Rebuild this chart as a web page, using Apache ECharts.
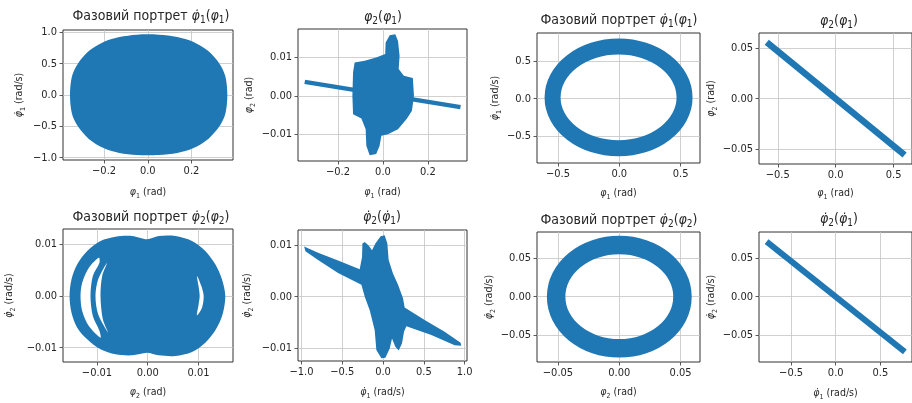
<!DOCTYPE html>
<html>
<head>
<meta charset="utf-8">
<script src="https://cdn.jsdelivr.net/npm/echarts@6/dist/echarts.min.js"></script>
<style>
  html, body { margin: 0; padding: 0; background: #fff; }
  #chart { width: 912px; height: 403px; }
</style>
</head>
<body>
<div id="chart"></div>
<script>
// ---------- phase-portrait data (rad, rad/s) ----------

// φ̇1(φ1), run 1: filled envelope of the trajectory
const p1Region = [[-0.356,0],[-0.347,0.3],[-0.32,0.5],[-0.27,0.7],[-0.2,0.85],[-0.13,0.925],[-0.05,0.963],
  [0.05,0.963],[0.135,0.927],[0.207,0.85],[0.277,0.7],[0.328,0.5],[0.355,0.3],[0.364,0],[0.355,-0.3],[0.328,-0.5],
  [0.277,-0.7],[0.207,-0.85],[0.135,-0.925],[0.05,-0.958],[-0.05,-0.958],[-0.13,-0.925],[-0.2,-0.85],[-0.27,-0.7],
  [-0.32,-0.5],[-0.347,-0.3]];

// φ2(φ1), run 1: thin band plus central cloud
const p2Band = [[-0.348,0.00365],[0.345,-0.00296]];
const p2Cloud = [[-0.126,0.0087],[-0.081,0.0091],[-0.030,0.0100],[0.010,0.0109],[0.012,0.0139],[0.030,0.0158],
  [0.055,0.0160],[0.067,0.0143],[0.074,0.0104],[0.070,0.0070],[0.093,0.0052],[0.133,0.0046],[0.138,0.0000],
  [0.129,-0.0039],[0.107,-0.0059],[0.067,-0.0087],[0.022,-0.0100],[-0.007,-0.0104],[-0.015,-0.0130],
  [-0.030,-0.0152],[-0.059,-0.0155],[-0.074,-0.0130],[-0.077,-0.0087],[-0.096,-0.0059],[-0.133,-0.0048],
  [-0.136,0.0000],[-0.133,0.0061]];

// φ̇1(φ1), run 2: ring centre line
const p3Ring = [[0.532,0.017],[0.491,0.274],[0.374,0.492],[0.200,0.638],[-0.006,0.689],[-0.212,0.638],
  [-0.386,0.492],[-0.503,0.274],[-0.544,0.017],[-0.503,-0.240],[-0.386,-0.458],[-0.212,-0.604],
  [-0.006,-0.655],[0.200,-0.604],[0.374,-0.458],[0.491,-0.240]];

// φ2(φ1), run 2
const p4Band = [[-0.595,0.0558],[0.595,-0.0558]];

// φ̇2(φ2), run 1: envelope and empty gaps between the orbits
const p5Region = [[-0.01541,0],[-0.01502,0.00323],[-0.01390,0.00613],[-0.01193,0.00871],[-0.00931,0.01065],
  [-0.00636,0.01148],[-0.00308,0.01161],[-0.00013,0.01097],[0.00216,0.01161],[0.00544,0.01161],
  [0.00872,0.01065],[0.01134,0.00871],[0.01331,0.00613],[0.01462,0.00323],[0.01528,0],[0.01475,-0.00355],
  [0.01344,-0.00645],[0.01134,-0.00903],[0.00872,-0.01084],[0.00544,-0.01161],[0.00216,-0.01148],
  [-0.00013,-0.01097],[-0.00308,-0.01148],[-0.00636,-0.01129],[-0.00931,-0.01032],[-0.01193,-0.00839],
  [-0.01390,-0.00613],[-0.01502,-0.00323]];
const p5GapA = [[-0.00964,0.00742],[-0.01161,0.00548],[-0.01292,0.00258],[-0.01325,0],[-0.01292,-0.00290],
  [-0.01161,-0.00581],[-0.00931,-0.00806],[-0.00951,-0.00677],[-0.01082,-0.00387],[-0.01128,0],
  [-0.01082,0.00387],[-0.00951,0.00645]];
const p5GapB = [[-0.0080,0.00645],[-0.00977,0.00323],[-0.0103,0],[-0.00977,-0.00355],[-0.0078,-0.0071],
  [-0.00885,-0.00452],[-0.00931,0],[-0.00898,0.00387]];
const p5GapC = [[0.0097,0.00387],[0.01056,0.00194],[0.01102,0],[0.01069,-0.00226],[0.0097,-0.00374],
  [0.01003,-0.00161],[0.01023,0],[0.01003,0.00181]];

// φ̇2(φ̇1), run 1
const p6Region = [[-0.967,0.0097],[-0.796,0.0085],[-0.551,0.0070],[-0.286,0.0053],[-0.257,0.0077],
  [-0.253,0.0103],[-0.224,0.0106],[-0.176,0.0099],[-0.135,0.0090],[-0.094,0.0103],[-0.029,0.0117],
  [0.020,0.0119],[0.053,0.0103],[0.069,0.0071],[0.122,0.0045],[0.184,0.0023],[0.245,-0.0003],
  [0.265,-0.0021],[0.510,-0.0045],[0.755,-0.0068],[0.951,-0.0089],[0.959,-0.0095],[0.878,-0.0094],
  [0.592,-0.0074],[0.286,-0.0057],[0.257,-0.0068],[0.233,-0.0090],[0.192,-0.0104],[0.151,-0.0097],
  [0.110,-0.0081],[0.082,-0.0100],[0.029,-0.0118],[-0.020,-0.0119],[-0.082,-0.0103],[-0.102,-0.0065],
  [-0.163,-0.0026],[-0.224,0.0000],[-0.265,0.0023],[-0.551,0.0046],[-0.796,0.0071],[-0.951,0.0088]];

// φ̇2(φ2), run 2: ring centre line
const p7Ring = [[0.0515,0],[0.0476,0.0258],[0.0364,0.0477],[0.0197,0.0623],[0,0.0674],[-0.0197,0.0623],
  [-0.0364,0.0477],[-0.0476,0.0258],[-0.0515,0],[-0.0476,-0.0258],[-0.0364,-0.0477],[-0.0197,-0.0623],
  [0,-0.0674],[0.0197,-0.0623],[0.0364,-0.0477],[0.0476,-0.0258]];

// φ̇2(φ̇1), run 2
const p8Band = [[-0.775,0.072],[0.775,-0.072]];

// ---------- axis extents and ticks ----------
const p1XRange = [-0.388, 0.39],    p1YRange = [-1.037, 1.037];
const p2XRange = [-0.378, 0.374],   p2YRange = [-0.0170, 0.0174];
const p3XRange = [-0.671, 0.658],   p3YRange = [-0.85, 0.869];
const p4XRange = [-0.662, 0.659],   p4YRange = [-0.0647, 0.065];
const p5XRange = [-0.0167, 0.0168], p5YRange = [-0.01277, 0.01296];
const p6XRange = [-1.042, 1.029],   p6YRange = [-0.01244, 0.0129];
const p7XRange = [-0.0671, 0.0658], p7YRange = [-0.0853, 0.0845];
const p8XRange = [-0.86, 0.855],    p8YRange = [-0.0853, 0.0845];

const ticksA = [-0.2, 0, 0.2],           labelsA = ['\u22120.2', '0.0', '0.2'];
const ticksB = [-1, -0.5, 0, 0.5, 1],    labelsB = ['\u22121.0', '\u22120.5', '0.0', '0.5', '1.0'];
const ticksC = [-0.01, 0, 0.01],         labelsC = ['\u22120.01', '0.00', '0.01'];
const ticksD = [-0.5, 0, 0.5],           labelsD = ['\u22120.5', '0.0', '0.5'];
const ticksE = [-0.05, 0, 0.05],         labelsE = ['\u22120.05', '0.00', '0.05'];

// ---------- text ----------
const FONT = '"DejaVu Sans Condensed", "DejaVu Sans", sans-serif';
const INK = '#262626';
const BLUE = '#1f77b4';

const phi = k => '{m|φ}{s|' + k + '}';
const phiDot = k => '{m|φ\u0307}{s|' + k + '}';
const portrait = 'Фазовий портрет ';

function richSet(size) {
  const base = { fontFamily: FONT, fontWeight: 'normal', color: INK };
  return {
    n: Object.assign({ fontSize: size, lineHeight: size + 4 }, base),
    m: Object.assign({ fontSize: size, fontStyle: 'italic', lineHeight: size + 4 }, base),
    s: Object.assign({ fontSize: Math.round(size * 0.7), verticalAlign: 'bottom', lineHeight: 6 }, base)
  };
}

// ---------- panel layout ----------
const panels = [
  { box: { left: 63, top: 30, width: 170, height: 130 }, xr: p1XRange, yr: p1YRange, xt: ticksA, xl: labelsA, yt: ticksB, yl: labelsB,
    title: '{n|' + portrait + '}' + phiDot(1) + '{n|(}' + phi(1) + '{n|)}', tx: 151, ty: 7,
    xName: phi(1) + '{n| (rad)}', yName: phiDot(1) + '{n| (rad/s)}', xGap: 25, yGap: 36 },
  { box: { left: 298, top: 29, width: 169, height: 132 }, xr: p2XRange, yr: p2YRange, xt: ticksA, xl: labelsA, yt: ticksC, yl: labelsC,
    title: phi(2) + '{n|(}' + phi(1) + '{n|)}', tx: 383, ty: 8,
    xName: phi(1) + '{n| (rad)}', yName: phi(2) + '{n| (rad)}', xGap: 24, yGap: 41 },
  { box: { left: 537, top: 33, width: 163, height: 130 }, xr: p3XRange, yr: p3YRange, xt: ticksD, xl: labelsD, yt: ticksD, yl: labelsD,
    title: '{n|' + portrait + '}' + phiDot(1) + '{n|(}' + phi(1) + '{n|)}', tx: 619, ty: 11,
    xName: phi(1) + '{n| (rad)}', yName: phiDot(1) + '{n| (rad/s)}', xGap: 23, yGap: 34 },
  { box: { left: 759, top: 33, width: 163, height: 131 }, xr: p4XRange, yr: p4YRange, xt: ticksD, xl: labelsD, yt: ticksE, yl: labelsE,
    title: phi(2) + '{n|(}' + phi(1) + '{n|)}', tx: 839, ty: 12,
    xName: phi(1) + '{n| (rad)}', yName: phi(2) + '{n| (rad)}', xGap: 22, yGap: 39 },
  { box: { left: 63, top: 229, width: 170, height: 133 }, xr: p5XRange, yr: p5YRange, xt: ticksC, xl: labelsC, yt: ticksC, yl: labelsC,
    title: '{n|' + portrait + '}' + phiDot(2) + '{n|(}' + phi(2) + '{n|)}', tx: 151, ty: 208,
    xName: phi(2) + '{n| (rad)}', yName: phiDot(2) + '{n| (rad/s)}', xGap: 23, yGap: 46 },
  { box: { left: 298, top: 230, width: 169, height: 131 }, xr: p6XRange, yr: p6YRange, xt: ticksB, xl: labelsB, yt: ticksC, yl: labelsC,
    title: phiDot(2) + '{n|(}' + phiDot(1) + '{n|)}', tx: 382, ty: 208,
    xName: phiDot(1) + '{n| (rad/s)}', yName: phiDot(2) + '{n| (rad/s)}', xGap: 24, yGap: 43 },
  { box: { left: 537, top: 232, width: 163, height: 130 }, xr: p7XRange, yr: p7YRange, xt: ticksE, xl: labelsE, yt: ticksE, yl: labelsE,
    title: '{n|' + portrait + '}' + phiDot(2) + '{n|(}' + phi(2) + '{n|)}', tx: 619, ty: 211,
    xName: phi(2) + '{n| (rad)}', yName: phiDot(2) + '{n| (rad/s)}', xGap: 23, yGap: 33 },
  { box: { left: 759, top: 232, width: 163, height: 130 }, xr: p8XRange, yr: p8YRange, xt: ticksD, xl: labelsD, yt: ticksE, yl: labelsE,
    title: phiDot(2) + '{n|(}' + phiDot(1) + '{n|)}', tx: 839, ty: 210,
    xName: phiDot(1) + '{n| (rad/s)}', yName: phiDot(2) + '{n| (rad/s)}', xGap: 24, yGap: 40 }
];

function labelFor(ticks, labels) {
  return v => {
    for (let i = 0; i < ticks.length; i++) if (Math.abs(ticks[i] - v) < 1e-9) return labels[i];
    return '';
  };
}

function makeAxis(gi, range, ticks, labels, name, gap) {
  return {
    type: 'value', gridIndex: gi, min: range[0], max: range[1],
    axisLine: { show: false, onZero: false },
    axisTick: { show: true, inside: false, length: 3.5, customValues: ticks, lineStyle: { color: '#333', width: 0.8 } },
    axisLabel: { customValues: ticks, formatter: labelFor(ticks, labels), margin: 6,
      fontFamily: FONT, fontSize: 11, color: INK },
    splitLine: { show: true, lineStyle: { color: '#c4c4c4', width: 0.8 } },
    name: name, nameLocation: 'middle', nameGap: gap,
    nameTextStyle: { fontFamily: FONT, fontSize: 10.5, fontWeight: 'normal', color: INK, rich: richSet(10.5) }
  };
}

// closed outline drawn through the axis scales
function shape(gi, pts, style, smooth) {
  return {
    type: 'custom', xAxisIndex: gi, yAxisIndex: gi, data: pts, silent: true, clip: true,
    renderItem: (params, api) => {
      if (params.dataIndex !== 0) return null;
      return { type: 'polygon', shape: { points: pts.map(p => api.coord(p)), smooth: smooth || 0 }, style: style };
    }
  };
}

function band(gi, pts, width) {
  return {
    type: 'line', xAxisIndex: gi, yAxisIndex: gi, data: pts, symbol: 'none', silent: true,
    lineStyle: { color: BLUE, width: width, cap: 'butt' }
  };
}

const series = [
  shape(0, p1Region, { fill: BLUE }, 0.3),
  band(1, p2Band, 4.3),
  shape(1, p2Cloud, { fill: BLUE }, 0),
  shape(2, p3Ring, { fill: 'none', stroke: BLUE, lineWidth: 16 }, 0.4),
  band(3, p4Band, 6.5),
  shape(4, p5Region, { fill: BLUE }, 0.3),
  shape(4, p5GapA, { fill: '#fff' }, 0.3),
  shape(4, p5GapB, { fill: '#fff' }, 0.3),
  shape(4, p5GapC, { fill: '#fff' }, 0.3),
  shape(5, p6Region, { fill: BLUE }, 0),
  shape(6, p7Ring, { fill: 'none', stroke: BLUE, lineWidth: 18.5 }, 0.4),
  band(7, p8Band, 6)
];

const chart = echarts.init(document.getElementById('chart'), null, { renderer: 'canvas' });
chart.setOption({
  animation: false,
  backgroundColor: '#fff',
  title: panels.map(p => ({
    text: p.title, left: p.tx, top: p.ty, textAlign: 'center', padding: 0,
    textStyle: { fontFamily: FONT, fontSize: 14, fontWeight: 'normal', color: INK, rich: richSet(14) }
  })),
  grid: panels.map(p => Object.assign({ show: true, borderColor: '#333', borderWidth: 1, containLabel: false }, p.box)),
  xAxis: panels.map((p, i) => makeAxis(i, p.xr, p.xt, p.xl, p.xName, p.xGap)),
  yAxis: panels.map((p, i) => makeAxis(i, p.yr, p.yt, p.yl, p.yName, p.yGap)),
  series: series
});
</script>
</body>
</html>
